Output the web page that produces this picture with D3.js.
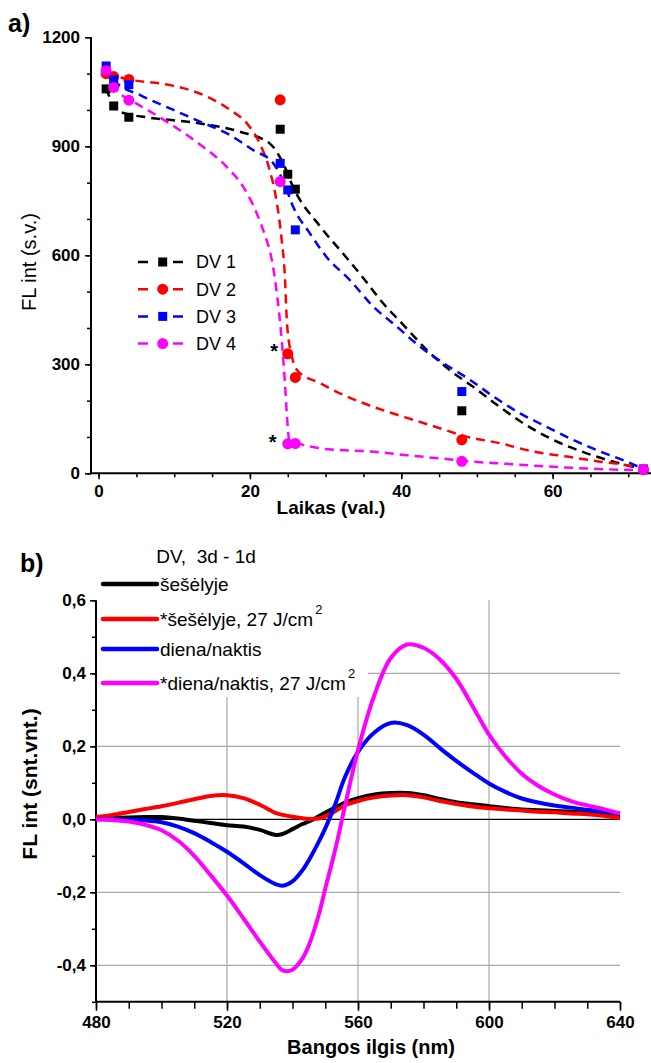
<!DOCTYPE html>
<html>
<head>
<meta charset="utf-8">
<script src="https://cdn.jsdelivr.net/npm/d3@7"></script>
<style>
  body { margin: 0; background: #fff; }
  svg, svg text { font-family: "Liberation Sans", Arial, sans-serif; }
  svg { display: block; }
</style>
</head>
<body>
<svg id="chart" width="651" height="1063"></svg>
<script>
// ---- panel a) data: measured points
var time = [1, 2, 4, 24, 25, 26, 48, 72];
var dv1 = [1058, 1011, 980, 947, 823, 782, 172, 10];
var dv2 = [1100, 1092, 1084, 1028, 329, 264, 92, 10];
var dv3 = [1121, 1083, 1070, 853, 780, 670, 225, 12];
var dv4 = [1108, 1062, 1027, 803, 81, 82, 33, 11];

// fitted (dashed) curves
var fit1x = [1, 2.4, 4, 6.3, 13.4, 18.7, 22.6, 24.4, 25.7, 29.3, 32.3, 35, 37.6, 40.3, 43.4, 46.4, 49.5, 53, 56.1, 60.1, 64.5, 68.9, 72];
var fit1y = [1060, 1000, 988, 980, 963, 940, 908, 853, 788, 679, 605, 537, 468, 408, 339, 284, 238, 183, 138, 92, 55, 27, 11];
var fit2x = [1, 4.5, 8.1, 11.2, 14.3, 17.4, 19.6, 21.3, 22.6, 23.5, 24.2, 24.6, 24.9, 25.5, 26.4, 29.3, 31, 34.5, 38.1, 41.6, 45.1, 48.6, 53, 57.4, 61.9, 66.3, 70.7, 72];
var fit2y = [1100, 1082, 1073, 1060, 1037, 1000, 963, 908, 835, 752, 642, 550, 413, 326, 280, 248, 229, 197, 170, 147, 124, 101, 83, 60, 46, 32, 18, 10];
var fit3x = [1, 2.2, 5.5, 9.9, 13.4, 16.9, 20.4, 23.1, 24.5, 25.7, 27.9, 30.1, 33.2, 36.3, 39.4, 42.5, 45.6, 49.1, 52.2, 55.7, 59.2, 62.7, 66.3, 69.8, 72];
var fit3y = [1120, 1078, 1041, 1000, 968, 936, 890, 853, 800, 734, 661, 596, 532, 459, 404, 348, 303, 257, 211, 165, 128, 92, 60, 32, 12];
var fit4x = [1, 2.4, 4.6, 7.2, 10.7, 13.8, 16.9, 19.1, 20.9, 22.2, 22.6, 23.5, 24.2, 24.6, 24.9, 25.2, 26.6, 29.2, 31.9, 35.9, 40.7, 45.1, 49.5, 53.9, 58.3, 62.7, 67.2, 72];
var fit4y = [1110, 1055, 1023, 991, 945, 899, 844, 789, 716, 642, 615, 505, 367, 257, 156, 92, 81, 69, 64, 60, 50, 41, 32, 26, 20, 15, 11, 8];

var legendA = ["DV 1", "DV 2", "DV 3", "DV 4"];
var yTicksA = [0, 300, 600, 900, 1200];
var xTicksA = [0, 20, 40, 60];

// ---- panel b) data: difference spectra
var wl = [480, 485, 490, 495, 500, 505, 510, 515, 520, 525, 530, 535, 537, 540, 543, 545, 548, 550, 553, 556, 560, 565, 570, 575, 580, 585, 590, 595, 600, 605, 610, 615, 620, 625, 630, 635, 640];
var sesel = [0, 0.003, 0.005, 0.006, 0.006, 0.002, -0.004, -0.010, -0.016, -0.020, -0.029, -0.043, -0.040, -0.027, -0.013, -0.006, 0.008, 0.018, 0.032, 0.046, 0.058, 0.068, 0.072, 0.072, 0.066, 0.056, 0.047, 0.041, 0.036, 0.031, 0.027, 0.025, 0.023, 0.021, 0.018, 0.014, 0.008];
var seselUV = [0.006, 0.012, 0.020, 0.028, 0.036, 0.045, 0.055, 0.064, 0.066, 0.058, 0.040, 0.017, 0.012, 0.007, 0.003, 0.001, 0.002, 0.008, 0.022, 0.038, 0.050, 0.060, 0.065, 0.066, 0.060, 0.050, 0.042, 0.035, 0.030, 0.027, 0.024, 0.021, 0.019, 0.016, 0.014, 0.010, 0.003];
var diena = [0, 0, -0.001, -0.003, -0.008, -0.020, -0.038, -0.062, -0.089, -0.120, -0.153, -0.178, -0.182, -0.170, -0.140, -0.112, -0.062, -0.025, 0.040, 0.115, 0.185, 0.238, 0.264, 0.258, 0.232, 0.195, 0.160, 0.128, 0.098, 0.075, 0.057, 0.046, 0.038, 0.032, 0.026, 0.021, 0.016];
var dienaUV = [0, -0.002, -0.006, -0.015, -0.030, -0.058, -0.100, -0.153, -0.209, -0.271, -0.335, -0.395, -0.414, -0.412, -0.382, -0.345, -0.262, -0.190, -0.085, 0.035, 0.190, 0.340, 0.442, 0.479, 0.470, 0.438, 0.385, 0.310, 0.232, 0.172, 0.125, 0.092, 0.068, 0.050, 0.038, 0.028, 0.016];

var legendB = ["šešėlyje", "*šešėlyje, 27 J/cm", "diena/naktis", "*diena/naktis, 27 J/cm"];
var supB = ["", "2", "", "2"];
var xTicksB = [480, 520, 560, 600, 640];
var yTicksB = [-0.4, -0.2, 0, 0.2, 0.4, 0.6];

var colors = ["#000000", "#ff0000", "#0000ff", "#ff00ff"];
var svg = d3.select("#chart");

// ================= panel a =================
var xa = d3.scaleLinear().domain([-1, 73]).range([91, 651]);
var ya = d3.scaleLinear().domain([0, 1200]).range([473.3, 37.3]);

var ga = svg.append("g");

// axes
var yAxA = ga.append("g").attr("transform", "translate(" + xa(-1) + ",0)");
yAxA.call(d3.axisLeft(ya).tickValues(d3.range(0, 1201, 100)).tickSize(4).tickFormat(""));
yAxA.call(function(g) { g.select(".domain").remove(); });
yAxA.append("g").call(d3.axisLeft(ya).tickValues(yTicksA).tickSize(6).tickPadding(5).tickFormat(d3.format("d")))
  .call(function(g) { g.select(".domain").remove(); });
ga.append("line").attr("x1", xa(-1)).attr("x2", xa(-1)).attr("y1", ya(0)).attr("y2", ya(1200))
  .attr("stroke", "#000").attr("stroke-width", 2);

var xAxA = ga.append("g").attr("transform", "translate(0," + ya(0) + ")");
xAxA.call(d3.axisBottom(xa).tickValues(d3.range(0, 71, 5)).tickSize(4).tickFormat(""))
  .call(function(g) { g.select(".domain").remove(); });
xAxA.append("g").call(d3.axisBottom(xa).tickValues(xTicksA).tickSize(6).tickPadding(6))
  .call(function(g) { g.select(".domain").remove(); });
ga.append("line").attr("x1", xa(-1)).attr("x2", 651).attr("y1", ya(0)).attr("y2", ya(0))
  .attr("stroke", "#000").attr("stroke-width", 2);

ga.selectAll(".tick line").attr("stroke", "#000").attr("stroke-width", 1.5);
ga.selectAll(".tick text").attr("fill", "#000").style("font-size", "17px").style("font-weight", "bold");

// fitted curves
var fits = [[fit1x, fit1y], [fit2x, fit2y], [fit3x, fit3y], [fit4x, fit4y]];
var lineA = d3.line().x(function(d) { return xa(d[0]); }).y(function(d) { return ya(d[1]); })
  .curve(d3.curveMonotoneX);
fits.forEach(function(f, i) {
  var pts = f[0].map(function(x, k) { return [x, f[1][k]]; });
  ga.append("path").datum(pts).attr("d", lineA)
    .attr("fill", "none").attr("stroke", colors[i]).attr("stroke-width", 2.5)
    .attr("stroke-dasharray", "9,6");
});

// points
var series = [dv1, dv2, dv3, dv4];
function marker(g, i, cx, cy) {
  if (i % 2 === 0) {
    g.append("rect").attr("x", cx - 4.5).attr("y", cy - 4.5).attr("width", 9).attr("height", 9)
      .attr("fill", colors[i]);
  } else {
    g.append("circle").attr("cx", cx).attr("cy", cy).attr("r", 5.5).attr("fill", colors[i]);
  }
}
series.forEach(function(s, i) {
  s.forEach(function(v, k) { marker(ga, i, xa(time[k]), ya(v)); });
});

// asterisks
ga.append("text").attr("x", xa(23.2)).attr("y", ya(348) + 11).attr("text-anchor", "middle")
  .style("font-size", "20px").style("font-weight", "bold").text("*");
ga.append("text").attr("x", xa(23)).attr("y", ya(96) + 11).attr("text-anchor", "middle")
  .style("font-size", "20px").style("font-weight", "bold").text("*");

// legend
legendA.forEach(function(name, i) {
  var ly = 262 + i * 27.2;
  ga.append("line").attr("x1", 138).attr("x2", 183).attr("y1", ly).attr("y2", ly)
    .attr("stroke", colors[i]).attr("stroke-width", 2.5).attr("stroke-dasharray", "10,25");
  marker(ga, i, 162.7, ly);
  ga.append("text").attr("x", 196).attr("y", ly).attr("dy", "0.36em")
    .style("font-size", "18px").text(name);
});

// labels
ga.append("text").attr("x", 331).attr("y", 514).attr("text-anchor", "middle")
  .style("font-size", "19px").style("font-weight", "bold").text("Laikas (val.)");
ga.append("text").attr("transform", "translate(36,262) rotate(-90)").attr("text-anchor", "middle")
  .style("font-size", "20px").text("FL int (s.v.)");
ga.append("text").attr("x", 8).attr("y", 32)
  .style("font-size", "25px").style("font-weight", "bold").text("a)");

// ================= panel b =================
var xb = d3.scaleLinear().domain([480, 640]).range([96, 620]);
var yb = d3.scaleLinear().domain([-0.5, 0.6]).range([1001.8, 600.3]);
var gb = svg.append("g");
var fmt = function(d) { return d3.format(".1f")(d).replace(".", ",").replace("-0,0", "0,0").replace("−", "-"); };

// grid
[-0.4, -0.2, 0.2, 0.4].forEach(function(v) {
  gb.append("line").attr("x1", xb(480)).attr("x2", xb(640)).attr("y1", yb(v)).attr("y2", yb(v))
    .attr("stroke", "#a8a8a8").attr("stroke-width", 1.2);
});
[520, 560, 600].forEach(function(v) {
  gb.append("line").attr("x1", xb(v)).attr("x2", xb(v)).attr("y1", yb(-0.5)).attr("y2", yb(0.6))
    .attr("stroke", "#a8a8a8").attr("stroke-width", 1.2);
});
gb.append("line").attr("x1", xb(480)).attr("x2", xb(640)).attr("y1", yb(0)).attr("y2", yb(0))
  .attr("stroke", "#000").attr("stroke-width", 1.2);

// legend background covers grid
gb.append("rect").attr("x", 97).attr("y", 598).attr("width", 271).attr("height", 99).attr("fill", "#fff");

// axes
var yAxB = gb.append("g").attr("transform", "translate(" + xb(480) + ",0)");
yAxB.call(d3.axisLeft(yb).tickValues(d3.range(-5, 7).map(function(d) { return d / 10; })).tickSize(4).tickFormat(""))
  .call(function(g) { g.select(".domain").remove(); });
yAxB.append("g").call(d3.axisLeft(yb).tickValues(yTicksB).tickSize(6).tickPadding(4).tickFormat(fmt))
  .call(function(g) { g.select(".domain").remove(); });
gb.append("line").attr("x1", xb(480)).attr("x2", xb(480)).attr("y1", yb(-0.5)).attr("y2", yb(0.6))
  .attr("stroke", "#000").attr("stroke-width", 2);

var xAxB = gb.append("g").attr("transform", "translate(0," + yb(-0.5) + ")");
xAxB.call(d3.axisBottom(xb).tickValues(d3.range(480, 641, 10)).tickSize(7).tickFormat(""))
  .call(function(g) { g.select(".domain").remove(); });
xAxB.append("g").call(d3.axisBottom(xb).tickValues(xTicksB).tickSize(9).tickPadding(5))
  .call(function(g) { g.select(".domain").remove(); });
gb.append("line").attr("x1", xb(480)).attr("x2", xb(640)).attr("y1", yb(-0.5)).attr("y2", yb(-0.5))
  .attr("stroke", "#000").attr("stroke-width", 2);

gb.selectAll(".tick line").attr("stroke", "#000").attr("stroke-width", 1.5);
gb.selectAll(".tick text").attr("fill", "#000").style("font-size", "17px").style("font-weight", "bold");

// spectra
var spectra = [sesel, seselUV, diena, dienaUV];
var lineB = d3.line().x(function(d) { return xb(d[0]); }).y(function(d) { return yb(d[1]); })
  .curve(d3.curveCatmullRom.alpha(0.5));
spectra.forEach(function(s, i) {
  var pts = wl.map(function(w, k) { return [w, s[k]]; });
  gb.append("path").datum(pts).attr("d", lineB)
    .attr("fill", "none").attr("stroke", colors[i]).attr("stroke-width", 4)
    .attr("stroke-linejoin", "round");
});

// legend
gb.append("text").attr("x", 206).attr("y", 563).attr("text-anchor", "middle")
  .style("font-size", "19px").style("white-space", "pre").text("DV,  3d - 1d");
var legY = [584, 619, 649, 683];
legendB.forEach(function(name, i) {
  gb.append("line").attr("x1", 103).attr("x2", 157).attr("y1", legY[i]).attr("y2", legY[i])
    .attr("stroke", colors[i]).attr("stroke-width", 4.5).attr("stroke-linecap", "round");
  var t = gb.append("text").attr("x", 160).attr("y", legY[i] + 7).style("font-size", "19px");
  t.append("tspan").text(name);
  if (supB[i]) {
    t.append("tspan").attr("dx", 2).attr("dy", -12).style("font-size", "13px").text(supB[i]);
  }
});

// labels
gb.append("text").attr("x", 371).attr("y", 1054).attr("text-anchor", "middle")
  .style("font-size", "20px").style("font-weight", "bold").text("Bangos ilgis (nm)");
gb.append("text").attr("transform", "translate(37,784) rotate(-90)").attr("text-anchor", "middle")
  .style("font-size", "21px").style("font-weight", "bold").text("FL int (snt.vnt.)");
gb.append("text").attr("x", 20).attr("y", 572)
  .style("font-size", "25px").style("font-weight", "bold").text("b)");
</script>
</body>
</html>
